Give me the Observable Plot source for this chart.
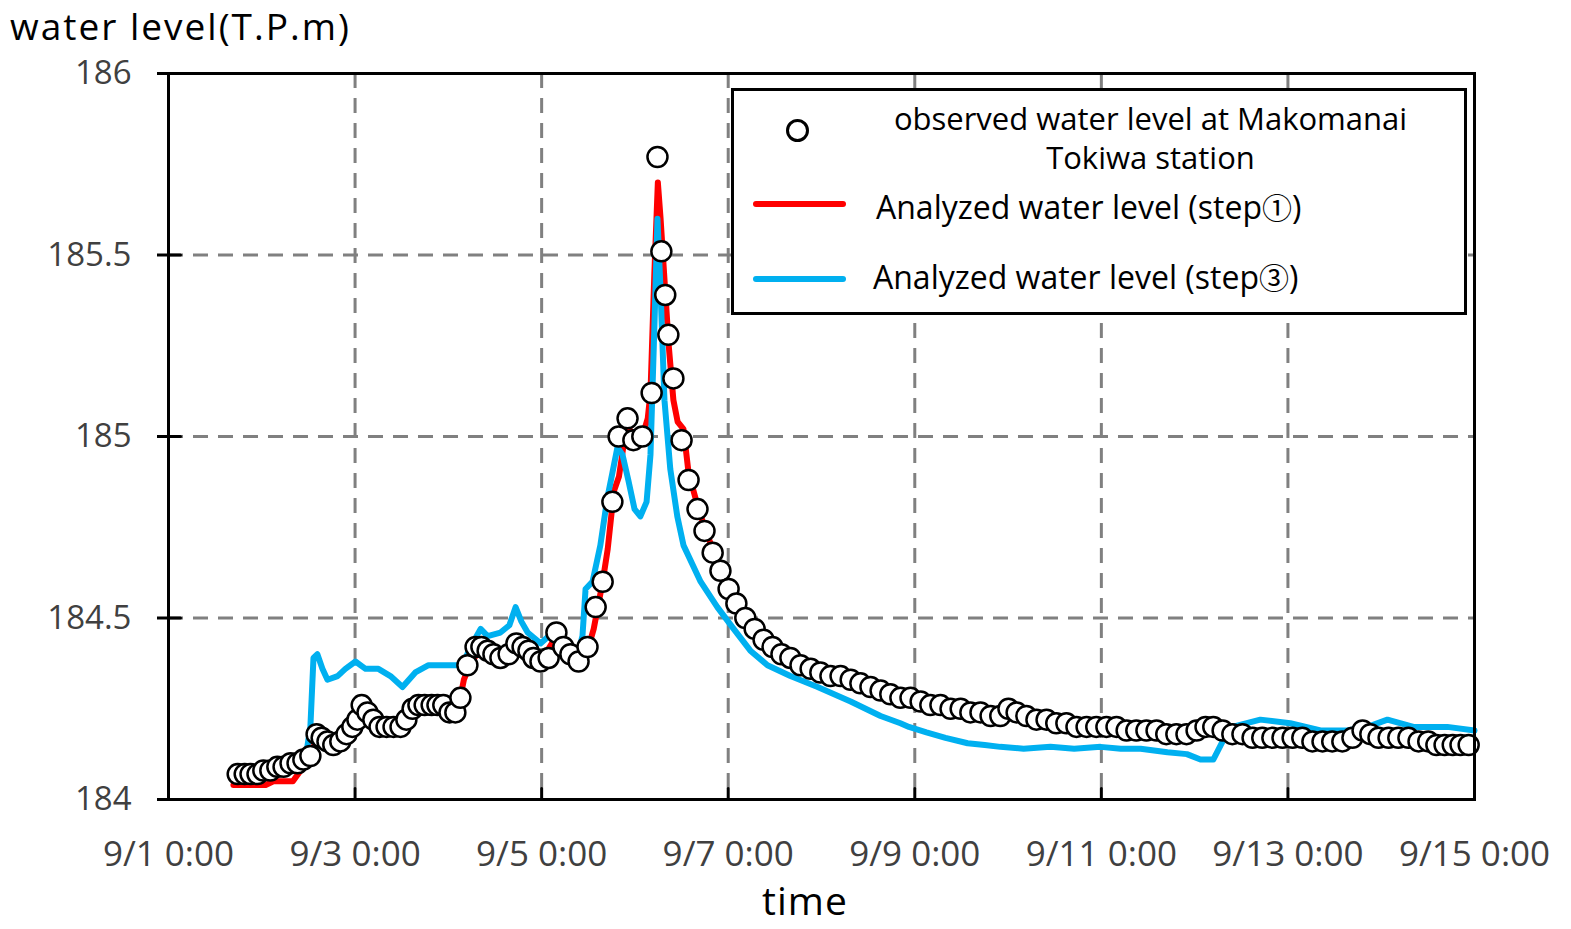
<!DOCTYPE html>
<html>
<head>
<meta charset="utf-8">
<script src="https://cdn.jsdelivr.net/npm/d3@7"></script>
<script src="https://cdn.jsdelivr.net/npm/@observablehq/plot@0.6"></script>
<style>
  html, body { margin: 0; padding: 0; background: #fff; }
  #wrap { position: relative; width: 1571px; height: 929px; font-family: "Open Sans", "Noto Sans", sans-serif; overflow: hidden; }
  #title { position: absolute; left: 10px; top: 0px; font-size: 37px; line-height: 51px; letter-spacing: 2px; color: #000; white-space: nowrap; }
  #xlabel { position: absolute; left: 605px; width: 400px; top: 880px; text-align: center; font-size: 39px; line-height: 40px; letter-spacing: 1px; color: #000; }
  #legend { position: absolute; left: 731px; top: 88px; width: 736px; height: 227px; box-sizing: border-box; border: 3px solid #000; background: #fff; font-size: 32px; color: #000; }
  .lg-row { position: absolute; white-space: nowrap; line-height: 36px; }
  .lg-line { position: absolute; height: 6px; border-radius: 3px; }
  .lg-dot { position: absolute; width: 17px; height: 17px; border: 3px solid #000; border-radius: 50%; background: #fff; }
  .cjk { font-family: "Noto Sans CJK JP", "DejaVu Sans", sans-serif; font-size: 30px; }
</style>
</head>
<body>
<div id="wrap">
  <div id="chart"></div>
  <div id="title">water level(T.P.m)</div>
  <div id="xlabel">time</div>
  <div id="legend"></div>
</div>
<script>
// ---- data (hours since 9/1 0:00, water level T.P.m) ----
const obsHours = [17.8,19.6,21.1,22.9,24.4,26.2,28.0,29.6,31.4,33.2,34.7,36.5,38.1,39.4,40.9,42.4,44.2,45.8,47.3,48.6,
  49.7,51.2,52.7,54.3,56.1,57.9,59.7,61.2,62.8,64.3,65.9,67.7,69.2,70.7,72.3,73.8,75.1,76.9,79.0,80.5,
  82.1,83.6,85.4,87.5,89.5,91.1,92.6,93.9,95.7,97.8,99.8,101.6,103.4,105.5,107.8,109.9,111.7,114.2,115.8,118.1,
  119.6,121.9,124.3,125.8,126.8,127.8,128.6,129.9,132.0,133.8,136.1,137.9,140.0,142.0,144.1,146.1,148.4,150.8,153.1,155.4,
  157.7,160.0,162.6,165.2,167.7,170.3,172.9,175.5,178.0,180.6,183.2,185.7,188.3,190.9,193.5,196.0,198.6,201.2,203.8,206.3,
  208.9,211.5,214.0,216.1,218.2,220.7,223.3,225.9,228.4,231.0,233.6,236.2,238.7,241.3,243.9,246.5,249.0,251.6,254.2,256.7,
  259.3,261.9,264.5,266.8,268.8,271.2,273.7,276.3,278.9,281.4,284.0,286.6,289.2,291.7,294.3,296.9,299.4,302.0,304.6,307.2,
  309.2,311.3,313.9,316.4,319.0,321.6,324.1,326.2,328.3,330.4,332.4,334.5];
const obsLevel = [184.07,184.07,184.07,184.07,184.08,184.08,184.09,184.09,184.10,184.10,184.11,184.12,184.18,184.17,184.16,184.15,184.16,184.18,184.20,184.22,
  184.26,184.24,184.22,184.20,184.20,184.20,184.20,184.22,184.25,184.26,184.26,184.26,184.26,184.26,184.24,184.24,184.28,184.37,184.42,184.42,
  184.41,184.40,184.39,184.40,184.43,184.42,184.41,184.39,184.38,184.39,184.46,184.42,184.40,184.38,184.42,184.53,184.60,184.82,185.00,185.05,
  184.99,185.00,185.12,185.77,185.51,185.39,185.28,185.16,184.99,184.88,184.80,184.74,184.68,184.63,184.58,184.54,184.50,184.47,184.44,184.42,
  184.40,184.39,184.37,184.36,184.35,184.34,184.34,184.33,184.32,184.31,184.30,184.29,184.28,184.28,184.27,184.26,184.26,184.25,184.25,184.24,
  184.24,184.23,184.23,184.25,184.24,184.23,184.22,184.22,184.21,184.21,184.20,184.20,184.20,184.20,184.20,184.19,184.19,184.19,184.19,184.18,
  184.18,184.18,184.19,184.20,184.20,184.19,184.18,184.18,184.17,184.17,184.17,184.17,184.17,184.17,184.16,184.16,184.16,184.16,184.17,184.19,
  184.18,184.17,184.17,184.17,184.17,184.16,184.16,184.15,184.15,184.15,184.15,184.15];

const step1Hours = [16.7,25.0,27.0,30.0,32.0,34.0,36.5,38.0,39.4,42.4,45.8,48.6,49.7,52.7,56.1,59.7,62.8,65.9,69.2,72.3,
  74.5,76.0,77.5,80.5,83.6,87.5,89.5,93.9,95.7,99.8,103.4,105.5,107.8,109.4,111.7,113.0,114.6,115.9,117.0,118.3,
  119.6,121.9,123.3,124.0,125.0,125.9,126.6,127.5,128.7,129.9,131.0,132.5,133.8,136.1,137.9,140.0,142.0,144.1,146.1,148.4,
  150.8,153.1,155.4,160.0,165.2,170.3,175.5,180.6,185.7,190.9,196.0,201.2,206.3,211.5,216.1,220.7,225.9,231.0,236.2,241.3,
  246.5,251.6,256.7,261.9,266.8,271.2,276.3,281.4,286.6,291.7,296.9,302.0,307.2,313.9,319.0,324.1,329.0,336.0];
const step1Level = [184.04,184.04,184.05,184.05,184.05,184.08,184.11,184.17,184.16,184.15,184.18,184.22,184.25,184.22,184.20,184.20,184.24,184.26,184.26,184.24,
  184.25,184.33,184.37,184.42,184.40,184.40,184.43,184.39,184.38,184.45,184.40,184.38,184.41,184.47,184.60,184.69,184.85,184.89,184.97,185.03,
  184.99,185.00,185.05,185.12,185.45,185.70,185.60,185.45,185.25,185.10,185.04,185.02,184.90,184.81,184.75,184.69,184.64,184.59,184.55,184.51,
  184.47,184.44,184.42,184.39,184.36,184.34,184.33,184.31,184.29,184.28,184.26,184.25,184.24,184.23,184.24,184.23,184.22,184.21,184.20,184.20,
  184.19,184.19,184.18,184.18,184.20,184.19,184.18,184.17,184.17,184.17,184.16,184.16,184.18,184.17,184.17,184.16,184.15,184.15];

const step3Hours = [16.7,28.8,34.0,35.5,36.5,37.3,38.3,39.6,40.9,43.5,45.5,48.1,50.7,54.0,57.1,60.2,63.5,66.9,71.3,75.6,
  77.7,80.3,82.1,85.4,87.7,89.3,90.8,92.4,95.7,97.8,99.6,102.1,105.5,106.5,107.3,109.1,111.1,112.9,114.2,115.5,
  116.8,118.3,119.9,121.4,123.0,124.0,125.0,125.8,126.6,127.6,129.1,130.9,132.5,136.9,141.2,145.4,149.7,154.1,160.0,167.0,
  175.5,183.2,188.3,190.5,195.0,199.9,205.6,210.0,214.0,220.0,226.9,233.0,239.8,245.0,250.1,257.0,262.0,265.5,268.8,271.2,
  273.7,280.9,288.6,296.4,303.3,308.5,313.6,320.3,329.0,336.0];
const step3Level = [184.07,184.09,184.11,184.13,184.20,184.39,184.40,184.36,184.33,184.34,184.36,184.38,184.36,184.36,184.34,184.31,184.35,184.37,184.37,184.37,
  184.42,184.47,184.45,184.46,184.48,184.53,184.49,184.46,184.43,184.45,184.44,184.42,184.41,184.45,184.58,184.60,184.70,184.83,184.90,184.97,
  184.95,184.88,184.80,184.78,184.82,184.95,185.30,185.60,185.40,185.10,184.91,184.78,184.70,184.60,184.53,184.47,184.41,184.37,184.34,184.31,
  184.27,184.23,184.21,184.20,184.185,184.17,184.155,184.15,184.145,184.14,184.145,184.14,184.145,184.14,184.14,184.13,184.125,184.11,184.11,184.16,
  184.20,184.22,184.21,184.19,184.19,184.20,184.22,184.20,184.20,184.19];

const xTickDays = [1, 3, 5, 7, 9, 11, 13, 15];
const yTicks = [184, 184.5, 185, 185.5, 186];
const legendLabels = ["observed water level at Makomanai", "Tokiwa station", "Analyzed water level (step", "\u2460", "Analyzed water level (step", "\u2462"];

// ---- build ----
const base = Date.UTC(2018, 8, 1);
const toDate = h => new Date(base + h * 3600e3);
const obs = obsHours.map((h, i) => ({t: toDate(h), v: obsLevel[i]}));
const s1 = step1Hours.map((h, i) => ({t: toDate(h), v: step1Level[i]}));
const s3 = step3Hours.map((h, i) => ({t: toDate(h), v: step3Level[i]}));
const xTicks = xTickDays.map(d => new Date(Date.UTC(2018, 8, d)));
const innerX = xTicks.slice(1, -1);
const innerY = yTicks.slice(1, -1);
const fmt = d3.utcFormat("%-m/%-d %-H:%M");
const tickShape = {draw(c, l) { c.moveTo(0, 0); c.lineTo(0, -l); }};

const chart = Plot.plot({
  width: 1571,
  height: 929,
  marginLeft: 168,
  marginRight: 97,
  marginTop: 73,
  marginBottom: 130,
  style: {fontFamily: "'Open Sans', 'Noto Sans', sans-serif", fontSize: "33px", color: "#404040", background: "white"},
  x: {type: "utc", domain: [xTicks[0], xTicks[xTicks.length - 1]]},
  y: {domain: [184, 186]},
  marks: [
    Plot.gridX(innerX, {stroke: "#808080", strokeOpacity: 1, strokeWidth: 3, strokeDasharray: "15,10"}),
    Plot.gridY(innerY, {stroke: "#808080", strokeOpacity: 1, strokeWidth: 3, strokeDasharray: "15,10"}),
    Plot.axisX(xTicks, {tickSize: 0, tickPadding: 42, tickFormat: fmt, label: null, fill: "#404040", fontSize: 35}),
    Plot.axisY(yTicks, {tickSize: 11, tickPadding: 26, tickFormat: d => String(d), label: null, stroke: "#000", strokeWidth: 3, fill: "#404040", fontSize: 33}),
    Plot.vector(innerX, {x: d => d, y: 184, length: 11, rotate: 0, anchor: "start", stroke: "#000", strokeWidth: 3, shape: tickShape}),
    Plot.vector(innerY, {x: xTicks[0], y: d => d, length: 12, rotate: 90, anchor: "start", stroke: "#000", strokeWidth: 3, shape: tickShape}),
    Plot.line(s1, {x: "t", y: "v", stroke: "#ff0000", strokeWidth: 6, curve: "linear"}),
    Plot.line(s3, {x: "t", y: "v", stroke: "#00b0f0", strokeWidth: 6, curve: "linear"}),
    Plot.dot(obs, {x: "t", y: "v", r: 10, fill: "white", stroke: "black", strokeWidth: 2.5}),
    Plot.frame({stroke: "black", strokeWidth: 3})
  ]
});
document.getElementById("chart").appendChild(chart);

// ---- legend (inside plot area, HTML overlay) ----
const lg = document.getElementById("legend");
const L = 731, T = 88;
function add(html) { lg.insertAdjacentHTML("beforeend", html); }
add(`<div class="lg-dot" style="left:${783 - L}px;top:${116 - T}px"></div>`);
add(`<div class="lg-row" style="left:${860 - L}px;width:575px;top:${96 - T}px;text-align:center;font-size:31px;line-height:39px;">${legendLabels[0]}</div>`);
add(`<div class="lg-row" style="left:${860 - L}px;width:575px;top:${135 - T}px;text-align:center;font-size:31px;line-height:39px;">${legendLabels[1]}</div>`);
add(`<div class="lg-line" style="left:${750 - L}px;width:93px;top:${198 - T}px;background:#ff0000"></div>`);
add(`<div class="lg-row" style="left:${873 - L}px;top:${185 - T}px">${legendLabels[2]}<span class="cjk">${legendLabels[3]}</span>)</div>`);
add(`<div class="lg-line" style="left:${750 - L}px;width:93px;top:${273 - T}px;background:#00b0f0"></div>`);
add(`<div class="lg-row" style="left:${870 - L}px;top:${255 - T}px">${legendLabels[4]}<span class="cjk">${legendLabels[5]}</span>)</div>`);
</script>
</body>
</html>
